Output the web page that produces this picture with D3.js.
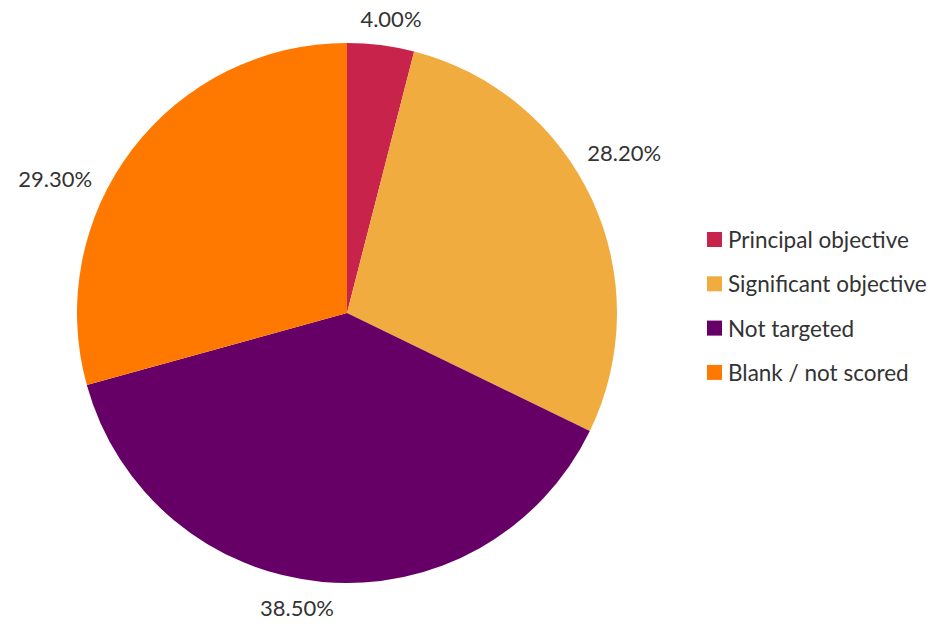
<!DOCTYPE html>
<html>
<head>
<meta charset="utf-8">
<script src="https://cdn.jsdelivr.net/npm/d3@7"></script>
<style>
  body { margin: 0; background: #fff; }
  text { font-family: Lato, "Open Sans", sans-serif; fill: #333; }
</style>
</head>
<body>
<div id="figure"></div>
<script>
const width = 948,
      height = 624;

// Data.
const categories = ["Principal objective", "Significant objective", "Not targeted", "Blank / not scored"];
const shares = [4.0, 28.2, 38.5, 29.3];
const colors = ["#c8234a", "#f0ac3e", "#660066", "#ff7900"];

// Excel "best fit" nudges the labels off the slice middle a bit (degrees).
const labelShift = [1.3, -5.3, 4.4, -12.5];

const cx = 347, cy = 313, radius = 270, labelGap = 14;

const svg = d3.select("#figure").append("svg")
    .attr("width", width)
    .attr("height", height);

const pie = d3.pie().sort(null).value(d => d)(shares);
const arc = d3.arc().innerRadius(0).outerRadius(radius);

const g = svg.append("g").attr("transform", `translate(${cx},${cy})`);

g.selectAll("path")
    .data(pie)
    .join("path")
    .attr("d", arc)
    .attr("fill", (d, i) => colors[i]);

// Labels outside, box edge touching a circle just outside the pie.
const labels = g.selectAll("text.lbl")
    .data(pie)
    .join("text")
    .attr("class", "lbl")
    .attr("font-size", 22)
    .attr("text-anchor", "middle")
    .attr("dominant-baseline", "central")
    .text(d => d3.format(".2f")(d.value) + "%");

labels.each(function(d, i) {
    const box = this.getBBox();
    const a = (d.startAngle + d.endAngle) / 2 + labelShift[i] * Math.PI / 180;
    const s = Math.sin(a), c = Math.cos(a);
    const extra = Math.abs(s) * box.width / 2 + Math.abs(c) * 9;
    const r = radius + labelGap + extra;
    d3.select(this)
        .attr("x", r * s)
        .attr("y", -r * c);
});

// Legend.
const legend = svg.append("g").attr("transform", "translate(707,232)");
const row = legend.selectAll("g")
    .data(categories)
    .join("g")
    .attr("transform", (d, i) => `translate(0,${i * 44.3})`);

row.append("rect")
    .attr("width", 15)
    .attr("height", 15)
    .attr("fill", (d, i) => colors[i]);

row.append("text")
    .attr("x", 21)
    .attr("y", 16)
    .attr("font-size", 22.5)
    .text(d => d);
</script>
</body>
</html>
